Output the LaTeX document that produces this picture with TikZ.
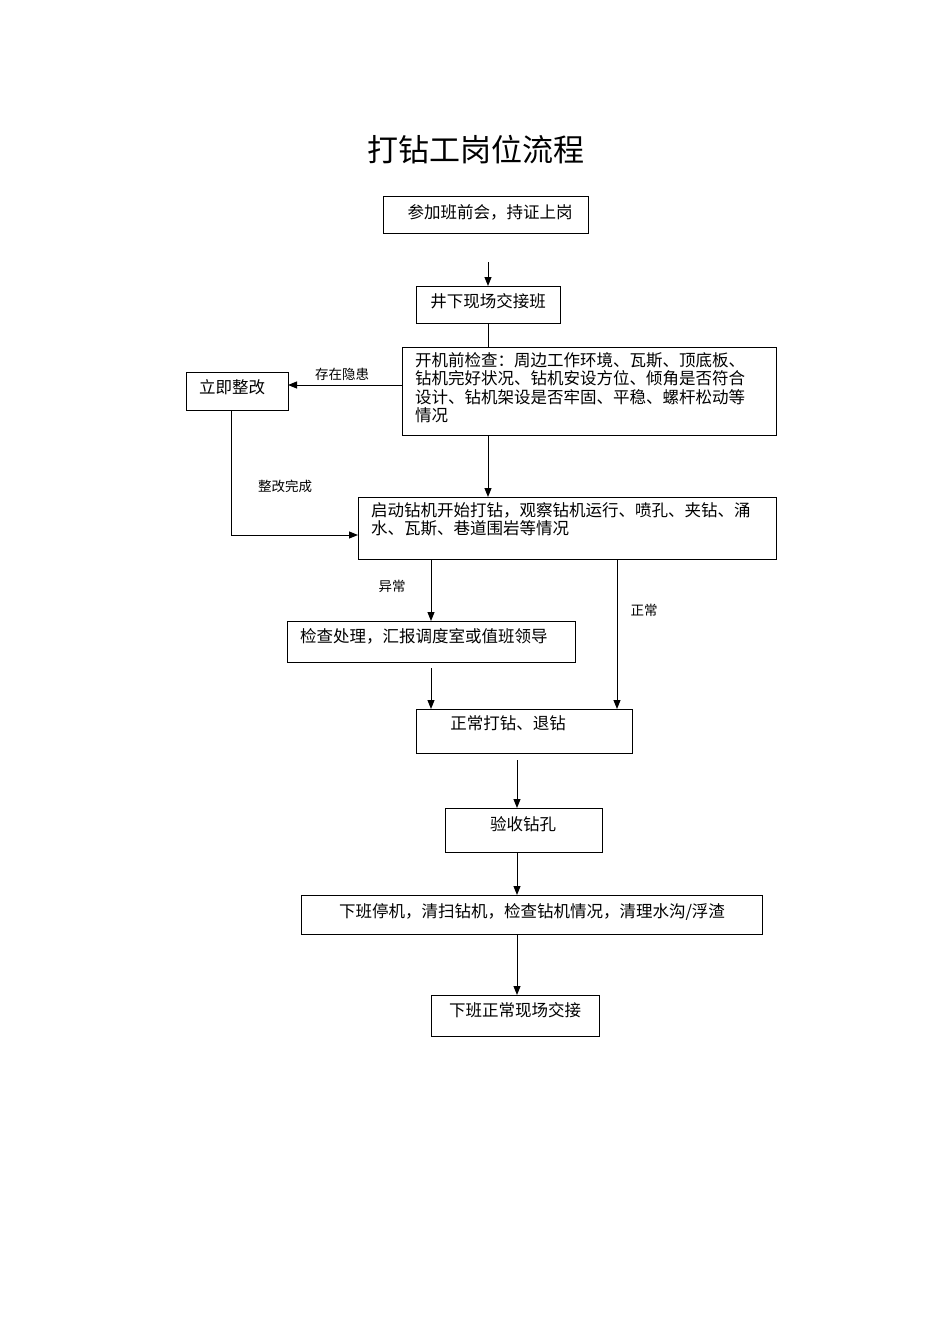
\documentclass[tikz,border=0pt]{standalone}
\usepackage{fontspec}
\setmainfont{Noto Sans CJK SC}
\usetikzlibrary{arrows.meta}
\begin{document}
\begin{tikzpicture}[x=1pt,y=-1pt,
  box/.style={draw,line width=1pt,inner sep=0},
  txt/.style={font=\fontsize{16.5}{18.5}\selectfont,inner sep=0,align=left},
  lbl/.style={font=\fontsize{13.5}{15}\selectfont,inner sep=0},
  arr/.style={line width=1pt,-{Triangle[length=9pt,width=7pt]}},
  ln/.style={line width=1pt}]
\useasboundingbox (0,0) rectangle (950,1344);
\node[font=\fontsize{31}{34}\selectfont,inner sep=0] (title) at (476,150) {打钻工岗位流程};
% boxes
\draw[box] (383,196) rectangle (588,233);
\coordinate (b1) at (485.5,214);
\node[txt] (t1) at (490,212) {参加班前会，持证上岗};
\draw[box] (416,286) rectangle (560,323); \coordinate (b2t) at (488,286); \coordinate (b2b) at (488,323);
\node[txt] (t2) at (488,301) {井下现场交接班};
\draw[box] (402,347) rectangle (776,435); \coordinate (b3t) at (488,347); \coordinate (b3b) at (488,435); \coordinate (b3l) at (402,385);
\node[txt,anchor=north west] (t3) at (415,352) {开机前检查：周边工作环境、瓦斯、顶底板、\\钻机完好状况、钻机安设方位、倾角是否符合\\设计、钻机架设是否牢固、平稳、螺杆松动等\\情况};
\draw[box] (186,372) rectangle (288,410); \coordinate (b4r) at (288,385); \coordinate (b4b) at (231,410);
\node[txt] (t4) at (232,387) {立即整改};
\draw[box] (358,497) rectangle (776,559); \coordinate (b5t) at (488,497); \coordinate (b5l) at (358,535);
\node[txt,anchor=north west] (t5) at (371,502) {启动钻机开始打钻，观察钻机运行、喷孔、夹钻、涌\\水、瓦斯、巷道围岩等情况};
\coordinate (b5a) at (431,559); \coordinate (b5b) at (617,559);
\draw[box] (287,621) rectangle (575,662); \coordinate (b6t) at (431,621); \coordinate (b6b) at (431,668);
\node[txt,anchor=west] (t6) at (300,636) {检查处理，汇报调度室或值班领导};
\draw[box] (416,709) rectangle (632,753); \coordinate (b7a) at (431,709); \coordinate (b7b) at (617,709); \coordinate (b7o) at (517,760);
\node[txt] (t7) at (508,723) {正常打钻、退钻};
\draw[box] (445,808) rectangle (602,852); \coordinate (b8t) at (517,808); \coordinate (b8b) at (517,852);
\node[txt] (t8) at (523,824) {验收钻孔};
\draw[box] (301,895) rectangle (762,934); \coordinate (b9t) at (517,895); \coordinate (b9b) at (517,934);
\node[txt] (t9) at (532,912) {下班停机，清扫钻机，检查钻机情况，清理水沟/浮渣};
\draw[box] (431,995) rectangle (599,1036); \coordinate (b10t) at (517,995);
\node[txt] (t10) at (515,1010) {下班正常现场交接};
% connectors
\coordinate (s1) at (488,262);
\draw[arr] (s1) -- (b2t);
\draw[ln] (b2b) -- (b3t);
\draw[arr] (b3l) -- (b4r);
\node[lbl] (l1) at (342,374) {存在隐患};
\draw[arr] (b4b) |- (b5l);
\node[lbl] (l2) at (285,486) {整改完成};
\draw[arr] (b3b) -- (b5t);
\draw[arr] (b5a) -- (b6t);
\node[lbl] (l3) at (392,586) {异常};
\draw[arr] (b5b) -- (b7b);
\node[lbl] (l4) at (644,610) {正常};
\draw[arr] (b6b) -- (b7a);
\draw[arr] (b7o) -- (b8t);
\draw[arr] (b8b) -- (b9t);
\draw[arr] (b9b) -- (b10t);
\end{tikzpicture}
\end{document}
